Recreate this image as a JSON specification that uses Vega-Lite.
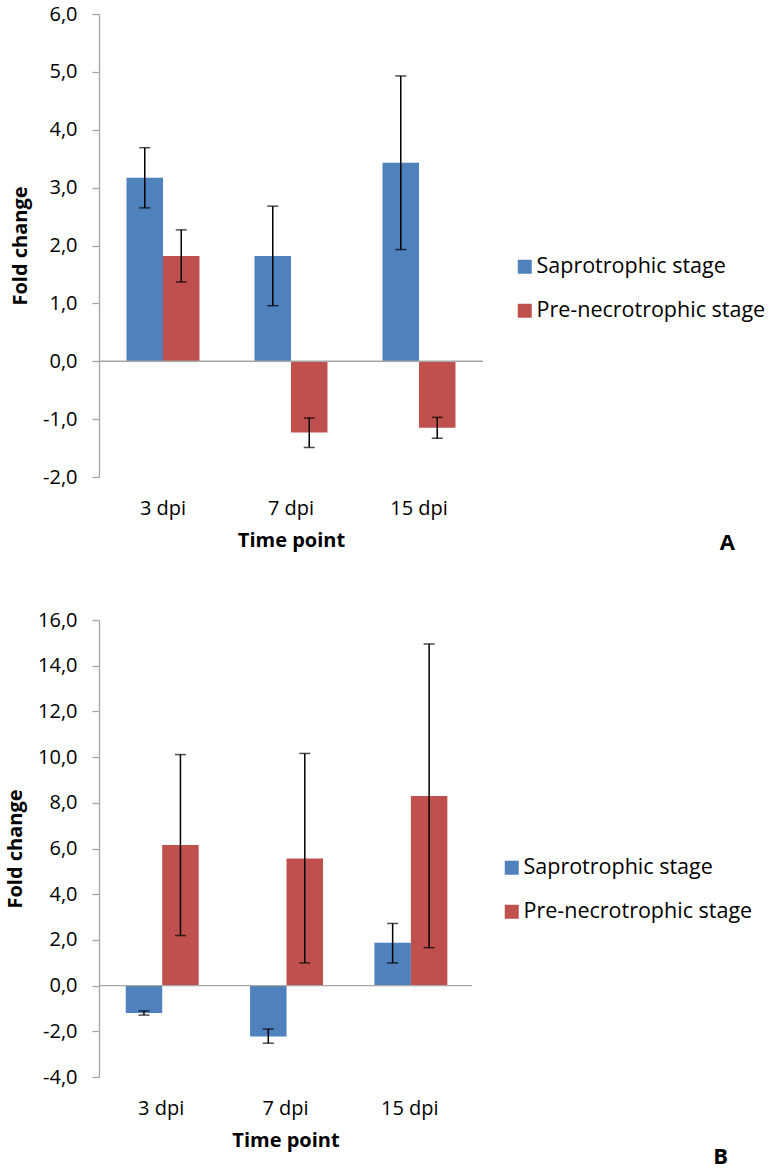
{
  "$schema": "https://vega.github.io/schema/vega-lite/v6.json",
  "padding": {"left": 5, "top": 4, "right": 0, "bottom": 8},
  "background": "white",
  "datasets": {
    "panelA": [
      {"time": "3 dpi", "stage": "Saprotrophic stage", "value": 3.17, "lo": 2.65, "hi": 3.69},
      {"time": "7 dpi", "stage": "Saprotrophic stage", "value": 1.82, "lo": 0.96, "hi": 2.68},
      {"time": "15 dpi", "stage": "Saprotrophic stage", "value": 3.43, "lo": 1.93, "hi": 4.93},
      {"time": "3 dpi", "stage": "Pre-necrotrophic stage", "value": 1.82, "lo": 1.37, "hi": 2.27},
      {"time": "7 dpi", "stage": "Pre-necrotrophic stage", "value": -1.23, "lo": -1.49, "hi": -0.98},
      {"time": "15 dpi", "stage": "Pre-necrotrophic stage", "value": -1.15, "lo": -1.33, "hi": -0.97}
    ],
    "panelB": [
      {"time": "3 dpi", "stage": "Saprotrophic stage", "value": -1.2, "lo": -1.29, "hi": -1.11},
      {"time": "7 dpi", "stage": "Saprotrophic stage", "value": -2.23, "lo": -2.52, "hi": -1.9},
      {"time": "15 dpi", "stage": "Saprotrophic stage", "value": 1.87, "lo": 0.99, "hi": 2.72},
      {"time": "3 dpi", "stage": "Pre-necrotrophic stage", "value": 6.15, "lo": 2.19, "hi": 10.11},
      {"time": "7 dpi", "stage": "Pre-necrotrophic stage", "value": 5.56, "lo": 0.99, "hi": 10.16},
      {"time": "15 dpi", "stage": "Pre-necrotrophic stage", "value": 8.3, "lo": 1.66, "hi": 14.95}
    ],
    "zero": [{"base": 0}]
  },
  "resolve": {"scale": {"color": "independent"}, "legend": {"color": "independent"}},
  "spacing": 56,
  "vconcat": [
    {
      "width": 384,
      "height": 463,
      "title": {"text": "A", "orient": "bottom", "anchor": "end", "frame": "group", "fontSize": 22, "fontWeight": "bold", "font": "Open Sans", "color": "#000", "dx": 252, "dy": -17, "offset": 0},
      "layer": [
        {
          "data": {"name": "panelA"},
          "mark": {"type": "bar"},
          "encoding": {
            "x": {"field": "time", "type": "nominal", "sort": ["3 dpi", "7 dpi", "15 dpi"], "title": "Time point", "scale": {"paddingInner": 0.43, "paddingOuter": 0.215}},
            "xOffset": {"field": "stage", "type": "nominal", "sort": ["Saprotrophic stage", "Pre-necrotrophic stage"], "scale": {"paddingInner": 0, "paddingOuter": 0}},
            "y": {"field": "value", "type": "quantitative", "title": "Fold change", "scale": {"domain": [-2, 6], "nice": false, "zero": false}, "axis": {"values": [-2, -1, 0, 1, 2, 3, 4, 5, 6], "labelExpr": "replace(replace(format(datum.value, '.1f'), '.', ','), '\u2212', '-')"}},
            "color": {"field": "stage", "type": "nominal", "sort": ["Saprotrophic stage", "Pre-necrotrophic stage"], "scale": {"domain": ["Saprotrophic stage", "Pre-necrotrophic stage"], "range": ["#4F81BD", "#C0504D"]}, "legend": {"orient": "none", "legendX": 415, "legendY": 242, "title": null}}
          }
        },
        {
          "data": {"name": "zero"},
          "mark": {"type": "rule", "color": "#a6a6a6", "strokeWidth": 1.3},
          "encoding": {"y": {"field": "base", "type": "quantitative", "title": "Fold change"}}
        },
        {
          "data": {"name": "panelA"},
          "mark": {"type": "rule", "color": "#000", "strokeWidth": 1.5},
          "encoding": {
            "x": {"field": "time", "type": "nominal", "sort": ["3 dpi", "7 dpi", "15 dpi"], "title": "Time point"},
            "xOffset": {"field": "stage", "type": "nominal", "sort": ["Saprotrophic stage", "Pre-necrotrophic stage"]},
            "y": {"field": "lo", "type": "quantitative", "title": "Fold change"},
            "y2": {"field": "hi"}
          }
        },
        {
          "data": {"name": "panelA"},
          "mark": {"type": "tick", "color": "#000", "size": 11, "thickness": 1.5},
          "encoding": {
            "x": {"field": "time", "type": "nominal", "sort": ["3 dpi", "7 dpi", "15 dpi"], "title": "Time point"},
            "xOffset": {"field": "stage", "type": "nominal", "sort": ["Saprotrophic stage", "Pre-necrotrophic stage"]},
            "y": {"field": "lo", "type": "quantitative", "title": "Fold change"}
          }
        },
        {
          "data": {"name": "panelA"},
          "mark": {"type": "tick", "color": "#000", "size": 11, "thickness": 1.5},
          "encoding": {
            "x": {"field": "time", "type": "nominal", "sort": ["3 dpi", "7 dpi", "15 dpi"], "title": "Time point"},
            "xOffset": {"field": "stage", "type": "nominal", "sort": ["Saprotrophic stage", "Pre-necrotrophic stage"]},
            "y": {"field": "hi", "type": "quantitative", "title": "Fold change"}
          }
        }
      ]
    },
    {
      "width": 373,
      "height": 457,
      "title": {"text": "B", "orient": "bottom", "anchor": "end", "frame": "group", "fontSize": 22, "fontWeight": "bold", "font": "Open Sans", "color": "#000", "dx": 256, "dy": -3, "offset": 0},
      "layer": [
        {
          "data": {"name": "panelB"},
          "mark": {"type": "bar"},
          "encoding": {
            "x": {"field": "time", "type": "nominal", "sort": ["3 dpi", "7 dpi", "15 dpi"], "title": "Time point", "scale": {"paddingInner": 0.43, "paddingOuter": 0.215}},
            "xOffset": {"field": "stage", "type": "nominal", "sort": ["Saprotrophic stage", "Pre-necrotrophic stage"], "scale": {"paddingInner": 0, "paddingOuter": 0}},
            "y": {"field": "value", "type": "quantitative", "title": "Fold change", "scale": {"domain": [-4, 16], "nice": false, "zero": false}, "axis": {"values": [-4, -2, 0, 2, 4, 6, 8, 10, 12, 14, 16], "labelExpr": "replace(replace(format(datum.value, '.1f'), '.', ','), '\u2212', '-')"}},
            "color": {"field": "stage", "type": "nominal", "sort": ["Saprotrophic stage", "Pre-necrotrophic stage"], "scale": {"domain": ["Saprotrophic stage", "Pre-necrotrophic stage"], "range": ["#4F81BD", "#C0504D"]}, "legend": {"orient": "none", "legendX": 402, "legendY": 237, "title": null}}
          }
        },
        {
          "data": {"name": "zero"},
          "mark": {"type": "rule", "color": "#a6a6a6", "strokeWidth": 1.3},
          "encoding": {"y": {"field": "base", "type": "quantitative", "title": "Fold change"}}
        },
        {
          "data": {"name": "panelB"},
          "mark": {"type": "rule", "color": "#000", "strokeWidth": 1.5},
          "encoding": {
            "x": {"field": "time", "type": "nominal", "sort": ["3 dpi", "7 dpi", "15 dpi"], "title": "Time point"},
            "xOffset": {"field": "stage", "type": "nominal", "sort": ["Saprotrophic stage", "Pre-necrotrophic stage"]},
            "y": {"field": "lo", "type": "quantitative", "title": "Fold change"},
            "y2": {"field": "hi"}
          }
        },
        {
          "data": {"name": "panelB"},
          "mark": {"type": "tick", "color": "#000", "size": 11, "thickness": 1.5},
          "encoding": {
            "x": {"field": "time", "type": "nominal", "sort": ["3 dpi", "7 dpi", "15 dpi"], "title": "Time point"},
            "xOffset": {"field": "stage", "type": "nominal", "sort": ["Saprotrophic stage", "Pre-necrotrophic stage"]},
            "y": {"field": "lo", "type": "quantitative", "title": "Fold change"}
          }
        },
        {
          "data": {"name": "panelB"},
          "mark": {"type": "tick", "color": "#000", "size": 11, "thickness": 1.5},
          "encoding": {
            "x": {"field": "time", "type": "nominal", "sort": ["3 dpi", "7 dpi", "15 dpi"], "title": "Time point"},
            "xOffset": {"field": "stage", "type": "nominal", "sort": ["Saprotrophic stage", "Pre-necrotrophic stage"]},
            "y": {"field": "hi", "type": "quantitative", "title": "Fold change"}
          }
        }
      ]
    }
  ],
  "config": {
    "font": "Open Sans",
    "view": {"stroke": null},
    "axis": {"labelFont": "Open Sans", "titleFont": "Open Sans", "labelColor": "#000", "titleColor": "#000", "grid": false},
    "axisY": {"domainColor": "#a6a6a6", "domainWidth": 1.3, "tickColor": "#a6a6a6", "tickWidth": 1.3, "tickSize": 7, "labelFontSize": 20, "labelPadding": 15, "titleFontSize": 20, "titleFontWeight": "bold", "titlePadding": 12},
    "axisX": {"domain": false, "ticks": false, "labelFontSize": 20, "labelPadding": 21, "labelAngle": 0, "titleFontSize": 20, "titleFontWeight": "bold", "titlePadding": 12},
    "legend": {"labelFont": "Open Sans", "labelFontSize": 21.5, "labelColor": "#000", "labelLimit": 400, "symbolType": "square", "symbolSize": 196, "symbolStrokeWidth": 0, "symbolOpacity": 1, "rowPadding": 21, "labelOffset": 1, "padding": 0}
  }
}
